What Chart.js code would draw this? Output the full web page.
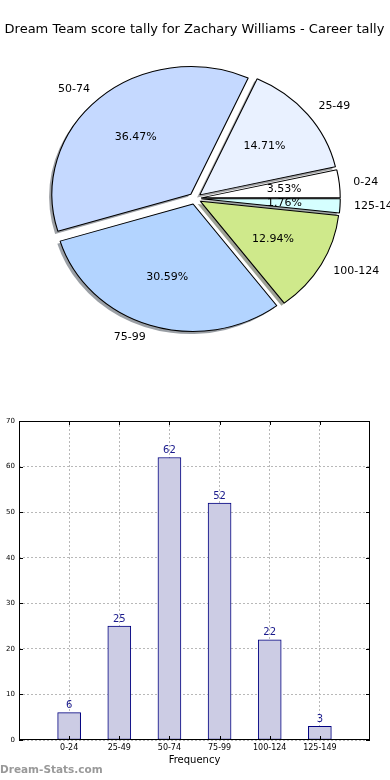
<!DOCTYPE html>
<html><head><meta charset="utf-8">
<script src="https://cdn.jsdelivr.net/npm/chart.js@4/dist/chart.umd.min.js"></script>
<style>
html,body{margin:0;padding:0;background:#fff;width:390px;height:780px;overflow:hidden;position:relative;font-family:"DejaVu Sans",sans-serif;}
#title{position:absolute;left:0;top:21px;width:389px;text-align:center;font-size:13px;color:#000;white-space:nowrap;}
#pie{position:absolute;left:0;top:0;}
#bar{position:absolute;left:0;top:400px;}
#wm{position:absolute;left:0;top:763px;font-size:10.5px;font-weight:bold;color:#999;}
</style></head>
<body>
<canvas id="pie" width="390" height="400"></canvas>
<div id="title">Dream Team score tally for Zachary Williams - Career tally</div>
<canvas id="bar" width="390" height="380"></canvas>
<div id="wm">Dream-Stats.com</div>
<script>
const categories = ['0-24','25-49','50-74','75-99','100-124','125-149'];
const frequency = [6, 25, 62, 52, 22, 3];
const sliceColors = ['#ffffff','#e9f1ff','#c5d9ff','#b3d4ff','#cfe98b','#d5ffff'];
const yTicks = [0,10,20,30,40,50,60,70];

Chart.defaults.font.family = 'DejaVu Sans';
Chart.defaults.color = '#000';

const total = frequency.reduce((a,b)=>a+b,0);
const RX = 139, RY = 127.5, EXPLODE = 0.045, SH = 0.02;
// Chart.js goes clockwise on screen; reverse so the first category goes counter-clockwise from 3 o'clock
const order = categories.map((c,i)=>i).reverse();

function shadowColor(hex){
  const r=parseInt(hex.slice(1,3),16)*0.3, g=parseInt(hex.slice(3,5),16)*0.3, b=parseInt(hex.slice(5,7),16)*0.3;
  return `rgba(${r|0},${g|0},${b|0},0.5)`;
}

const piePlugin = {
  id:'pieDraw',
  beforeDatasetsDraw(chart){
    const ctx = chart.ctx;
    const arcs = chart.getDatasetMeta(0).data;
    const sx = RX/arcs[0].outerRadius;
    arcs.forEach((a,k)=>{
      const i = order[k];
      const mid=(a.startAngle+a.endAngle)/2, R=a.outerRadius, d=EXPLODE*R;
      ctx.save();
      ctx.translate(a.x,a.y); ctx.scale(sx,1);
      ctx.translate(Math.cos(mid)*d - SH*R, Math.sin(mid)*d + SH*R);
      ctx.beginPath(); ctx.moveTo(0,0); ctx.arc(0,0,R,a.startAngle,a.endAngle); ctx.closePath();
      ctx.fillStyle = shadowColor(sliceColors[i]); ctx.fill();
      ctx.restore();
    });
    arcs.forEach((a)=>{
      const mid=(a.startAngle+a.endAngle)/2, R=a.outerRadius, d=EXPLODE*R;
      ctx.save();
      ctx.translate(a.x,a.y); ctx.scale(sx,1); ctx.translate(-a.x,-a.y);
      ctx.translate(Math.cos(mid)*d, Math.sin(mid)*d);
      a.draw(ctx);
      ctx.restore();
    });
    return false;
  },
  afterDraw(chart){
    const ctx = chart.ctx;
    const arcs = chart.getDatasetMeta(0).data;
    const sx = RX/arcs[0].outerRadius;
    ctx.save();
    ctx.font = '11px "DejaVu Sans"';
    ctx.fillStyle = '#000';
    ctx.textBaseline = 'middle';
    arcs.forEach((a,k)=>{
      const i = order[k];
      const mid=(a.startAngle+a.endAngle)/2, R=a.outerRadius;
      const c=Math.cos(mid), s=Math.sin(mid);
      const pr=(0.6+EXPLODE)*R, lr=(1.1+EXPLODE)*R;
      ctx.textAlign='center';
      ctx.fillText((frequency[i]/total*100).toFixed(2)+'%', a.x + c*pr*sx, a.y + s*pr);
      ctx.textAlign = c>0 ? 'left' : 'right';
      ctx.fillText(categories[i], a.x + c*lr*sx, a.y + s*lr);
    });
    ctx.restore();
  }
};

new Chart(document.getElementById('pie'), {
  type:'pie',
  data:{labels: order.map(i=>categories[i]),
    datasets:[{data: order.map(i=>frequency[i]), backgroundColor: order.map(i=>sliceColors[i]),
      borderColor:'#000', borderWidth:1}]},
  options:{responsive:false, animation:false, rotation:90,
    layout:{padding:{left:0,right:0,top:70.5,bottom:73.5}},
    plugins:{legend:{display:false}, tooltip:{enabled:false}, title:{display:false}}},
  plugins:[piePlugin]
});

const barPlugin = {
  id:'barDeco',
  afterDraw(chart){
    const ctx = chart.ctx, ca = chart.chartArea;
    const xs = chart.scales.x, ys = chart.scales.y;
    ctx.save();
    ctx.strokeStyle='#000'; ctx.lineWidth=1;
    ctx.strokeRect(Math.round(ca.left)+0.5, Math.round(ca.top)+0.5, Math.round(ca.right-ca.left)-1, Math.round(ca.bottom-ca.top)-1);
    ctx.beginPath();
    yTicks.forEach(v=>{
      const y=Math.round(ys.getPixelForValue(v))+0.5;
      ctx.moveTo(ca.left,y); ctx.lineTo(ca.left+4,y);
      ctx.moveTo(ca.right,y); ctx.lineTo(ca.right-4,y);
    });
    categories.forEach((c,i)=>{
      const x=Math.round(xs.getPixelForValue(i))+0.5;
      ctx.moveTo(x,ca.bottom); ctx.lineTo(x,ca.bottom-4);
      ctx.moveTo(x,ca.top); ctx.lineTo(x,ca.top+4);
    });
    ctx.stroke();
    ctx.font='10px "DejaVu Sans"'; ctx.fillStyle='#1a1a8c'; ctx.textAlign='center'; ctx.textBaseline='bottom';
    chart.getDatasetMeta(0).data.forEach((b,i)=>{
      ctx.fillText(String(frequency[i]), b.x, b.y-2);
    });
    ctx.restore();
  }
};

new Chart(document.getElementById('bar'), {
  type:'bar',
  data:{datasets:[{data: frequency.map((v,i)=>({x:i,y:v})), backgroundColor:'#ccccE4', borderColor:'#000080',
    borderWidth:1, borderSkipped:false, barThickness:23}]},
  options:{responsive:false, animation:false,
    layout:{padding:{top:21,right:20,left:0,bottom:14}},
    plugins:{legend:{display:false}, tooltip:{enabled:false}},
    scales:{
      x:{type:'linear', min:-1, max:6, offset:false, z:1,
        afterBuildTicks:(s)=>{s.ticks = categories.map((c,i)=>({value:i}));},
        ticks:{callback:(v)=>categories[v], font:{size:8}, color:'#000', maxRotation:0, autoSkip:false, padding:3},
        grid:{color:'#b8b8b8', drawTicks:false, lineWidth:1, offset:false},
        border:{display:false, dash:[2,2]},
        title:{display:true, text:'Frequency', font:{size:10}, color:'#000', padding:{top:2,bottom:0}},
        afterFit:(s)=>{s.height=26;}},
      y:{min:0, max:70, z:1,
        afterBuildTicks:(s)=>{s.ticks = yTicks.map(v=>({value:v}));},
        ticks:{font:{size:7}, color:'#000', padding:4},
        grid:{color:'#b8b8b8', drawTicks:false, lineWidth:1},
        border:{display:false, dash:[2,2]},
        afterFit:(s)=>{s.width=19;}}
    }},
  plugins:[barPlugin]
});
</script>
</body></html>
